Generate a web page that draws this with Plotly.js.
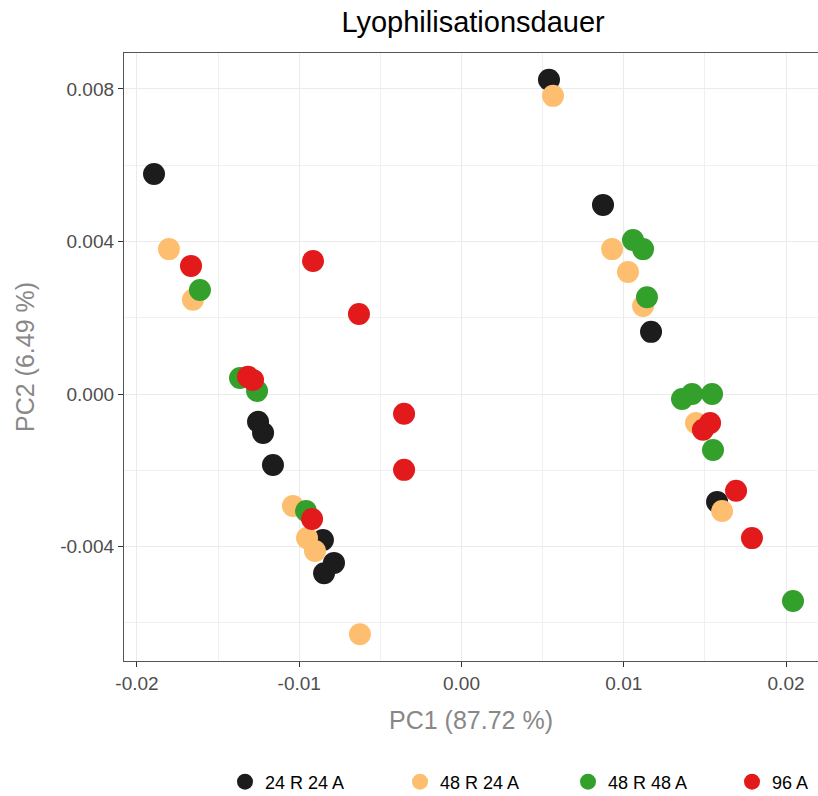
<!DOCTYPE html>
<html>
<head>
<meta charset="utf-8">
<script src="https://cdn.plot.ly/plotly-3.0.1.min.js"></script>
<style>html,body{margin:0;padding:0;background:#fff;}#chart{width:818px;height:796px;}</style>
</head>
<body>
<div id="chart"></div>
<script>
// Group labels and colours
const groups = ["24 R 24 A", "48 R 24 A", "48 R 48 A", "96 A"];
const colors = ["#1c1c1c", "#FDBF6F", "#33A02C", "#E31A1C"];

// PC1 / PC2 scores per group
const pc1_24R24A = [-0.01895, -0.01254, -0.01223, -0.01162, -0.00854, -0.00786, -0.00847, 0.00539, 0.00872, 0.01168, 0.01575];
const pc2_24R24A = [0.00577, -0.00073, -0.00102, -0.00186, -0.00383, -0.00443, -0.00470, 0.00824, 0.00496, 0.00163, -0.00283];

const pc1_48R24A = [-0.01803, -0.01655, -0.01039, -0.00952, -0.00903, -0.00626, 0.00564, 0.00928, 0.01026, 0.01119, 0.01445, 0.01606];
const pc2_48R24A = [0.00380, 0.00247, -0.00294, -0.00378, -0.00412, -0.00630, 0.00782, 0.00380, 0.00320, 0.00231, -0.00076, -0.00307];

const pc1_48R48A = [-0.01612, -0.01365, -0.01260, -0.00958, 0.01057, 0.01119, 0.01143, 0.01359, 0.01421, 0.01544, 0.01550, 0.02043];
const pc2_48R48A = [0.00273, 0.00042, 0.00008, -0.00307, 0.00404, 0.00380, 0.00254, -0.00013, 0.00000, 0.00000, -0.00147, -0.00543];

const pc1_96A = [-0.01667, -0.00915, -0.00632, -0.01316, -0.01285, -0.00921, -0.00354, -0.00354, 0.01532, 0.01488, 0.01692, 0.01790];
const pc2_96A = [0.00336, 0.00349, 0.00210, 0.00045, 0.00037, -0.00328, -0.00052, -0.00199, -0.00076, -0.00094, -0.00254, -0.00378];

// Tick labels
const xTickVals = [-0.02, -0.01, 0.00, 0.01, 0.02];
const xTickText = ["-0.02", "-0.01", "0.00", "0.01", "0.02"];
const yTickVals = [0.008, 0.004, 0.000, -0.004];
const yTickText = ["0.008", "0.004", "0.000", "-0.004"];

const xs = [pc1_24R24A, pc1_48R24A, pc1_48R48A, pc1_96A];
const ys = [pc2_24R24A, pc2_48R24A, pc2_48R48A, pc2_96A];

const legendIds = ["legend", "legend2", "legend3", "legend4"];
const legendX = [225, 400, 568, 732];

const traces = groups.map((g, i) => ({
  type: "scatter",
  mode: "markers",
  name: g,
  x: xs[i],
  y: ys[i],
  legend: legendIds[i],
  marker: {color: colors[i], size: 22, line: {width: 0}},
  hoverinfo: "x+y+name"
}));

const FONT = "Liberation Sans, Arial, Helvetica, sans-serif";
const layout = {
  width: 818,
  height: 796,
  paper_bgcolor: "#ffffff",
  plot_bgcolor: "#ffffff",
  margin: {l: 124, r: 0, t: 53, b: 135},
  font: {family: FONT, color: "#4d4d4d"},
  title: {
    text: "Lyophilisationsdauer",
    font: {family: FONT, size: 29, color: "#000000"},
    x: 0.503, xref: "paper", xanchor: "center",
    y: 0.972, yref: "container", yanchor: "middle"
  },
  xaxis: {
    range: [-0.0208, 0.02197],
    tickvals: xTickVals,
    ticktext: xTickText,
    tickfont: {size: 19, color: "#4d4d4d"},
    ticks: "outside", ticklen: 5, tickwidth: 1.2, tickcolor: "#333333",
    showgrid: true, gridcolor: "#EBEBEB", gridwidth: 1.3,
    minor: {dtick: 0.005, tick0: -0.025, showgrid: true, gridcolor: "#F0F0F0", gridwidth: 0.8, ticks: ""},
    zeroline: false,
    showline: true, linecolor: "#555555", linewidth: 1.3, mirror: true,
    title: {text: "PC1 (87.72 %)", font: {family: FONT, size: 25, color: "#888888"}, standoff: 18}
  },
  yaxis: {
    range: [-0.007003, 0.008944],
    tickvals: yTickVals,
    ticktext: yTickText,
    tickfont: {size: 19, color: "#4d4d4d"},
    ticks: "outside", ticklen: 5, tickwidth: 1.2, tickcolor: "#333333",
    showgrid: true, gridcolor: "#EBEBEB", gridwidth: 1.3,
    minor: {dtick: 0.002, tick0: 0, showgrid: true, gridcolor: "#F0F0F0", gridwidth: 0.8, ticks: ""},
    zeroline: false,
    showline: true, linecolor: "#555555", linewidth: 1.3, mirror: false,
    title: {text: "PC2 (6.49 %)", font: {family: FONT, size: 25, color: "#888888"}, standoff: 18}
  },
  showlegend: true,
  hovermode: "closest"
};

legendIds.forEach((id, i) => {
  layout[id] = {
    orientation: "h",
    xref: "container", yref: "container",
    x: legendX[i] / 818, xanchor: "left",
    y: 1 - 782 / 796, yanchor: "middle",
    font: {family: FONT, size: 18, color: "#000000"},
    itemsizing: "trace",
    bgcolor: "rgba(0,0,0,0)"
  };
});

Plotly.newPlot("chart", traces, layout, {displayModeBar: false, responsive: false});
</script>
</body>
</html>
